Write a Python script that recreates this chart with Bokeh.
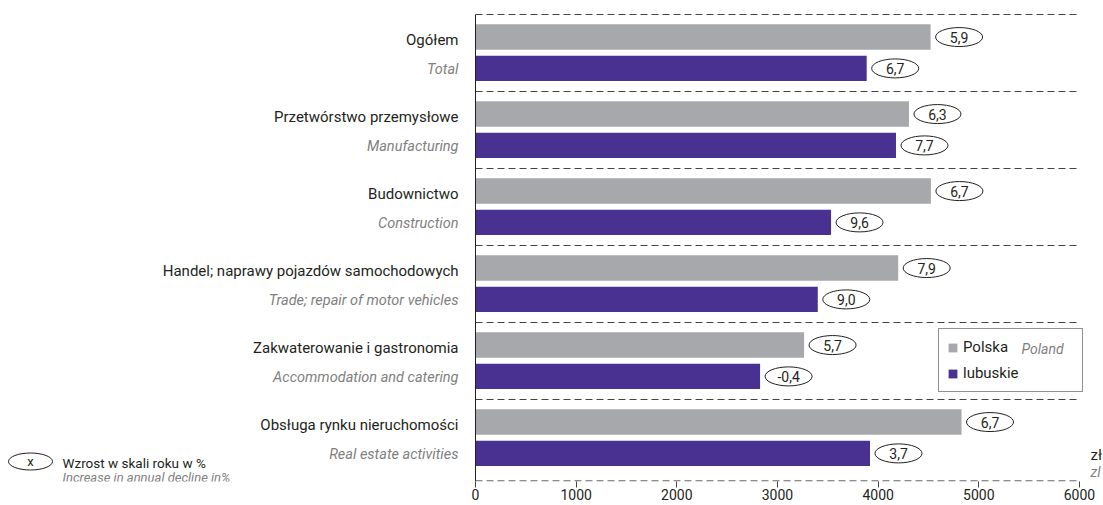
from bokeh.plotting import figure
from bokeh.models import Legend, LegendItem, FixedTicker, Range1d
from bokeh.core.properties import value
from bokeh.embed import file_html
from bokeh.resources import INLINE

# ---------------- data ----------------
categories_pl = [
    "Ogółem",
    "Przetwórstwo przemysłowe",
    "Budownictwo",
    "Handel; naprawy pojazdów samochodowych",
    "Zakwaterowanie i gastronomia",
    "Obsługa rynku nieruchomości",
]
categories_en = [
    "Total",
    "Manufacturing",
    "Construction",
    "Trade; repair of motor vehicles",
    "Accommodation and catering",
    "Real estate activities",
]
polska = [4521, 4306, 4524, 4199, 3264, 4828]
lubuskie = [3886, 4177, 3532, 3400, 2827, 3919]
polska_growth = ["5,9", "6,3", "6,7", "7,9", "5,7", "6,7"]
lubuskie_growth = ["6,7", "7,7", "9,6", "9,0", "-0,4", "3,7"]
x_ticks = [0, 1000, 2000, 3000, 4000, 5000, 6000]
series_names = ["Polska", "lubuskie"]
series_names_en = ["Poland", ""]
unit_pl, unit_en = "zł", "zl"
note_pl = "Wzrost w skali roku w %"
note_en = "Increase in annual decline in%"

# ---------------- style / layout ----------------
FONT = "Roboto"
GRAY = "#a7a8ab"
PURPLE = "#483190"
DARK = "#231f20"
ITAL = "#7f7f7f"
DASH = "7 4"

FW, FH = 1103, 481
AX_LEFT_PX = 475          # pixel position of x=0 inside the frame
AX_SPAN_PX = 604          # pixels between 0 and 6000
XPP = (x_ticks[-1] - x_ticks[0]) / AX_SPAN_PX
X0 = -AX_LEFT_PX * XPP
X1 = X0 + FW * XPP
UNIT_PX = 77.0
TOP_PX = 14.0
n = len(categories_pl)
YPP = 1.0 / UNIT_PX
Y1 = n + TOP_PX * YPP
Y0 = Y1 - FH * YPP


def ypx(py):
    """frame pixel row (from top) -> data y"""
    return Y1 - py * YPP


y_gray = [n - i - 0.293 for i in range(n)]
y_purple = [n - i - 0.70 for i in range(n)]
BAR_H = 0.33

p = figure(frame_width=FW, frame_height=FH, x_range=Range1d(X0, X1), y_range=Range1d(Y0, Y1),
           output_backend="svg", toolbar_location=None, min_border=0)
p.outline_line_color = None
p.yaxis.visible = False
p.grid.visible = False

# separators (dashed) and value axis line
p.segment(x0=[0] * n, x1=[x_ticks[-1]] * n, y0=list(range(1, n + 1)), y1=list(range(1, n + 1)),
          line_color="#444444", line_width=1, line_dash=DASH)
p.segment(x0=[0], x1=[x_ticks[-1]], y0=[Y0 + 0.6 * YPP], y1=[Y0 + 0.6 * YPP],
          line_color="#444444", line_width=1, line_dash=DASH)

r_gray = p.hbar(y=y_gray, left=0, right=polska, height=BAR_H, fill_color=GRAY, line_color=None)
r_purple = p.hbar(y=y_purple, left=0, right=lubuskie, height=BAR_H, fill_color=PURPLE, line_color=None)

p.segment(x0=[0], x1=[0], y0=[Y0], y1=[n], line_color=DARK, line_width=1)

# growth ellipses
off = 28.5 * XPP
gx = [v + off for v in polska]
lx = [v + off for v in lubuskie]
for xs, ys, txt in ((gx, y_gray, polska_growth), (lx, y_purple, lubuskie_growth)):
    p.ellipse(x=xs, y=ys, width=47, height=19, width_units="screen", height_units="screen",
              fill_color="white", line_color=DARK, line_width=1)
    p.text(x=xs, y=ys, text=txt, text_align="center", text_baseline="middle",
           text_font=value(FONT), text_font_size="14px", text_color=DARK)

# category labels
lab_x = -17 * XPP
p.text(x=[lab_x] * n, y=[v - 0.035 for v in y_gray], text=categories_pl, text_align="right",
       text_baseline="middle", text_font=value(FONT), text_font_size="15px", text_color=DARK)
p.text(x=[lab_x] * n, y=[v - 0.01 for v in y_purple], text=categories_en, text_align="right",
       text_baseline="middle", text_font=value(FONT), text_font_size="14.5px",
       text_font_style="italic", text_color=ITAL)

# x axis
ax = p.xaxis[0]
ax.ticker = FixedTicker(ticks=x_ticks)
ax.axis_line_color = None
ax.major_tick_out = 6
ax.major_tick_in = 0
ax.major_tick_line_color = "#444444"
ax.minor_tick_line_color = None
ax.major_label_standoff = 1
ax.major_label_text_font = FONT
ax.major_label_text_font_size = "14px"
ax.major_label_text_color = DARK

# legend
LEG_BOTTOM_PX = 392
LEG_H = 62
legend = Legend(items=[LegendItem(label=series_names[0], renderers=[r_gray]),
                       LegendItem(label=series_names[1], renderers=[r_purple])],
                location=(938, FH - LEG_BOTTOM_PX), orientation="vertical",
                glyph_width=11, glyph_height=11, label_height=20, label_width=111,
                label_standoff=5, padding=8, spacing=6, margin=0,
                label_text_font=FONT, label_text_font_size="15px", label_text_color=DARK,
                border_line_color=DARK, border_line_width=1, background_fill_alpha=0)
p.add_layout(legend, "center")
p.text(x=[(1021 - AX_LEFT_PX) * XPP], y=[ypx(LEG_BOTTOM_PX - LEG_H + 18)], text=[series_names_en[0]],
       text_align="left", text_baseline="middle", text_font=value(FONT), text_font_size="14px",
       text_font_style="italic", text_color=ITAL)

# unit labels at right
p.text(x=[x_ticks[-1] + 11 * XPP], y=[ypx(454)], text=[unit_pl], text_align="left", text_baseline="middle",
       text_font=value(FONT), text_font_size="15px", text_color=DARK)
p.text(x=[x_ticks[-1] + 11 * XPP], y=[ypx(471)], text=[unit_en], text_align="left", text_baseline="middle",
       text_font=value(FONT), text_font_size="14px", text_font_style="italic", text_color=ITAL)

# note at bottom left
note_x = (30 - AX_LEFT_PX) * XPP
p.ellipse(x=[note_x], y=[ypx(461)], width=44, height=17, width_units="screen", height_units="screen",
          fill_color="white", line_color=DARK, line_width=1)
p.text(x=[note_x], y=[ypx(461)], text=["x"], text_align="center", text_baseline="middle",
       text_font=value(FONT), text_font_size="13px", text_color=DARK)
p.text(x=[(62 - AX_LEFT_PX) * XPP], y=[ypx(462)], text=[note_pl], text_align="left", text_baseline="middle",
       text_font=value(FONT), text_font_size="13.5px", text_color=DARK)
p.text(x=[(62 - AX_LEFT_PX) * XPP], y=[ypx(477)], text=[note_en], text_align="left", text_baseline="middle",
       text_font=value(FONT), text_font_size="13px", text_font_style="italic", text_color=ITAL)

open("out.html", "w").write(file_html(p, INLINE))
